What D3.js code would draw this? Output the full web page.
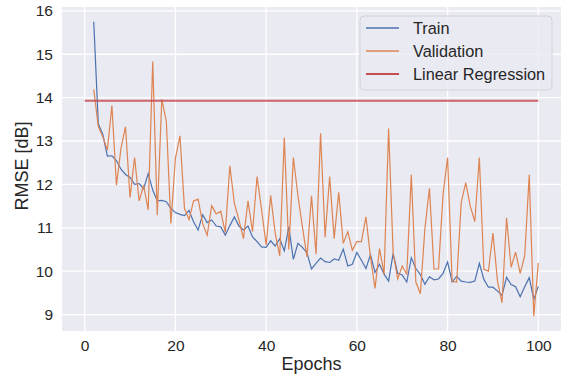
<!DOCTYPE html>
<html>
<head>
<meta charset="utf-8">
<script src="https://cdnjs.cloudflare.com/ajax/libs/d3/7.8.5/d3.min.js"></script>
<style>
  body { margin: 0; background: #ffffff; }
  text { font-family: "Liberation Sans", Arial, sans-serif; fill: #262626; }
</style>
</head>
<body>
<div id="chart"></div>
<script>

// training curves (epochs 2..100)
var epochs = d3.range(2, 101);

var train = [15.75, 13.40, 13.15, 12.65, 12.66, 12.55, 12.35, 12.23, 12.16, 12.00,
  12.02, 11.90, 12.25, 11.87, 11.62, 11.63, 11.60, 11.45, 11.35, 11.31,
  11.28, 11.40, 11.14, 10.95, 11.30, 11.12, 11.18, 11.04, 11.02, 10.83,
  11.05, 11.25, 11.04, 10.95, 11.04, 10.79, 10.68, 10.56, 10.55, 10.70,
  10.58, 10.75, 10.47, 11.02, 10.27, 10.64, 10.55, 10.42, 10.05, 10.18,
  10.30, 10.22, 10.20, 10.28, 10.25, 10.51, 10.12, 10.16, 10.43, 10.25,
  10.06, 10.38, 9.97, 10.16, 9.93, 9.77, 10.41, 9.95, 9.91, 9.75,
  10.31, 10.06, 9.92, 9.70, 9.87, 9.80, 9.82, 9.95, 10.21, 9.75,
  9.88, 9.77, 9.75, 9.74, 9.77, 10.18, 9.81, 9.63, 9.63, 9.54,
  9.44, 9.86, 9.69, 9.64, 9.41, 9.64, 9.85, 9.35, 9.65];

var validation = [14.19, 13.33, 13.10, 12.79, 13.82, 11.98, 12.83, 13.33, 11.70, 12.62,
  11.62, 11.98, 11.41, 14.83, 11.29, 13.96, 13.45, 11.10, 12.60, 13.12,
  11.45, 11.19, 11.62, 11.66, 11.10, 10.83, 11.51, 11.32, 11.38, 10.89,
  12.43, 11.56, 11.18, 10.75, 11.62, 10.91, 12.18, 11.41, 10.60, 11.75,
  10.87, 10.35, 13.08, 10.50, 12.62, 11.75, 11.02, 10.33, 11.74, 10.39,
  13.18, 10.78, 12.18, 10.75, 11.82, 10.64, 10.91, 10.48, 10.68, 10.68,
  11.25, 10.33, 9.60, 10.52, 9.93, 13.29, 10.41, 9.82, 10.12, 9.93,
  12.22, 9.75, 9.48, 10.98, 11.91, 10.05, 10.05, 11.77, 12.62, 9.77,
  9.75, 11.58, 12.04, 11.50, 11.14, 12.62, 10.04, 10.00, 10.88, 9.77,
  9.27, 11.23, 10.09, 10.44, 9.95, 10.35, 12.23, 8.96, 10.19];

// baseline drawn as a flat line
var lrEpochs = [0, 100];
var lrValue = 13.93;

var xTicks = [0, 20, 40, 60, 80, 100];
var yTicks = [9, 10, 11, 12, 13, 14, 15, 16];
var seriesNames = ["Train", "Validation", "Linear Regression"];
var colors = ["#4c72b0", "#dd8452", "#c44e52"];

var svgWidth = 562, svgHeight = 378;
var margin = {top: 7, right: 1, bottom: 47, left: 62},
  width = svgWidth - margin.left - margin.right,
  height = svgHeight - margin.top - margin.bottom;

var svg = d3.select("#chart").append("svg")
  .attr("width", svgWidth)
  .attr("height", svgHeight);

var g = svg.append("g")
  .attr("transform", "translate(" + margin.left + "," + margin.top + ")");

// matplotlib style 5% padding on both axes
var xPad = (lrEpochs[1] - lrEpochs[0]) * 0.05;
var x = d3.scaleLinear()
  .domain([lrEpochs[0] - xPad, lrEpochs[1] + xPad])
  .range([0, width]);

var allVals = train.concat(validation, [lrValue]);
var yMin = d3.min(allVals), yMax = d3.max(allVals);
var yPad = (yMax - yMin) * 0.05;
var y = d3.scaleLinear()
  .domain([yMin - yPad, yMax + yPad])
  .range([height, 0]);

// background
g.append("rect")
  .attr("width", width)
  .attr("height", height)
  .attr("fill", "#eaeaf2");

// grid
g.append("g")
  .selectAll("line")
  .data(xTicks)
  .join("line")
  .attr("x1", function(d) { return x(d); })
  .attr("x2", function(d) { return x(d); })
  .attr("y1", 0)
  .attr("y2", height)
  .attr("stroke", "#ffffff")
  .attr("stroke-width", 1.3);

g.append("g")
  .selectAll("line")
  .data(yTicks)
  .join("line")
  .attr("x1", 0)
  .attr("x2", width)
  .attr("y1", function(d) { return y(d); })
  .attr("y2", function(d) { return y(d); })
  .attr("stroke", "#ffffff")
  .attr("stroke-width", 1.3);

// axes, no tick marks or domain line (seaborn darkgrid)
var xAxis = d3.axisBottom(x).tickValues(xTicks).tickSize(0).tickPadding(9);
var yAxis = d3.axisLeft(y).tickValues(yTicks).tickSize(0).tickPadding(9);

var gx = g.append("g")
  .attr("transform", "translate(0," + height + ")")
  .call(xAxis);
var gy = g.append("g").call(yAxis);

[gx, gy].forEach(function(a) {
  a.select(".domain").remove();
  a.selectAll("text")
    .style("font-family", "'Liberation Sans', Arial, sans-serif")
    .style("font-size", "15.5px")
    .attr("fill", "#262626");
});

// axis titles
g.append("text")
  .attr("x", width / 2)
  .attr("y", height + 39)
  .attr("text-anchor", "middle")
  .style("font-size", "18px")
  .text("Epochs");

g.append("text")
  .attr("transform", "rotate(-90)")
  .attr("x", -height / 2 + 3)
  .attr("y", -34)
  .attr("text-anchor", "middle")
  .style("font-size", "18px")
  .text("RMSE [dB]");

// lines
var line = d3.line()
  .x(function(d, i) { return x(epochs[i]); })
  .y(function(d) { return y(d); });

g.append("path")
  .datum(train)
  .attr("fill", "none")
  .attr("stroke", colors[0])
  .attr("stroke-width", 1.2)
  .attr("d", line);

g.append("path")
  .datum(validation)
  .attr("fill", "none")
  .attr("stroke", colors[1])
  .attr("stroke-width", 1.2)
  .attr("d", line);

g.append("line")
  .attr("x1", x(lrEpochs[0]))
  .attr("x2", x(lrEpochs[1]))
  .attr("y1", y(lrValue))
  .attr("y2", y(lrValue))
  .attr("stroke", colors[2])
  .attr("stroke-opacity", 0.85)
  .attr("stroke-width", 2);

// legend
var legend = svg.append("g")
  .attr("transform", "translate(360,16)");

legend.append("rect")
  .attr("width", 192)
  .attr("height", 74)
  .attr("rx", 4)
  .attr("fill", "#eaeaf2")
  .attr("fill-opacity", 0.8)
  .attr("stroke", "#d2d2d8")
  .attr("stroke-width", 1);

var items = legend.selectAll("g.item")
  .data(seriesNames)
  .join("g")
  .attr("class", "item")
  .attr("transform", function(d, i) { return "translate(0," + (12 + i * 23) + ")"; });

items.append("line")
  .attr("x1", 6)
  .attr("x2", 39)
  .attr("stroke", function(d, i) { return colors[i]; })
  .attr("stroke-width", function(d, i) { return i == 2 ? 2 : 1.4; });

items.append("text")
  .attr("x", 53)
  .attr("y", 6)
  .style("font-size", "16.3px")
  .text(function(d) { return d; });

</script>
</body>
</html>
